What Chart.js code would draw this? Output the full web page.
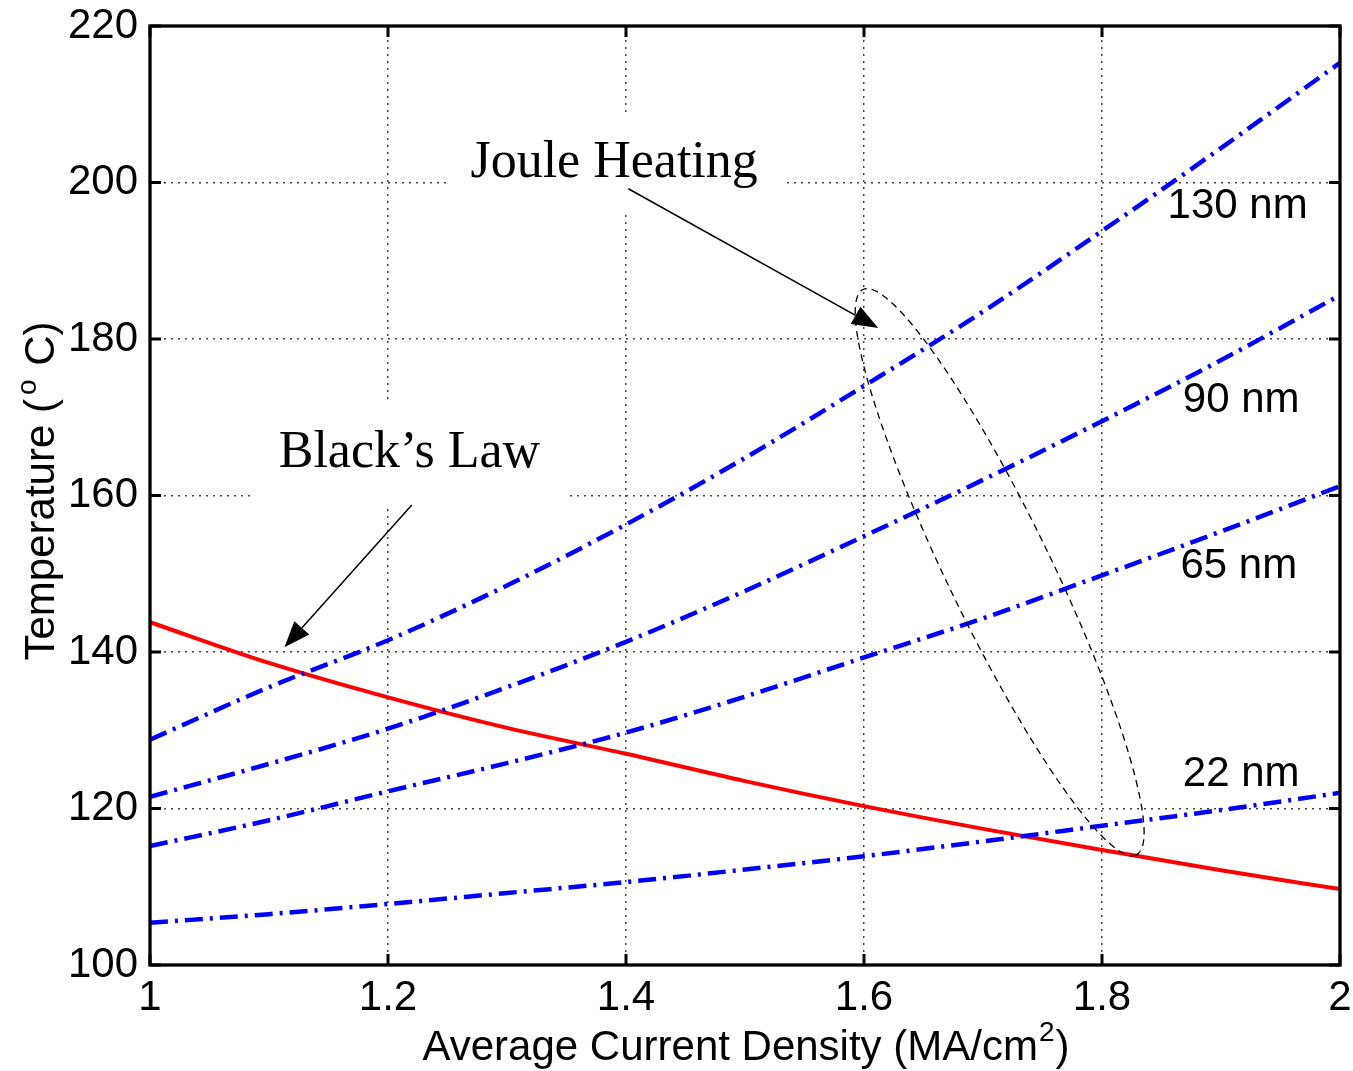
<!DOCTYPE html>
<html>
<head>
<meta charset="utf-8">
<script src="https://cdn.jsdelivr.net/npm/chart.js@4.4.1/dist/chart.umd.min.js"></script>
<style>
  body { margin: 0; background: #fff; }
  #wrap { width: 1353px; height: 1071px; position: relative; }
</style>
</head>
<body>
<div id="wrap"><canvas id="canvas1"></canvas></div>
<script>
// Temperature vs average current density

var currentDensity = [1.0, 1.1, 1.2, 1.3, 1.4, 1.5, 1.6, 1.7, 1.8, 1.9, 2.0];
var temp130 = [128.8, 135.5, 141.5, 148.5, 156.3, 164.8, 174.0, 183.5, 193.8, 204.4, 215.3];
var temp90 = [121.5, 125.7, 130.2, 135.5, 141.3, 147.8, 154.8, 162.0, 169.5, 177.3, 185.6];
var temp65 = [115.2, 118.5, 122.2, 125.8, 129.7, 134.3, 139.3, 144.3, 149.8, 155.4, 161.2];
var temp22 = [105.4, 106.5, 107.8, 109.2, 110.6, 112.2, 113.9, 115.8, 117.8, 119.8, 122.0];
var blacksLaw = [143.8, 138.6, 134.2, 130.3, 127.0, 123.5, 120.3, 117.4, 114.7, 112.1, 109.7];

var xTicks = [1, 1.2, 1.4, 1.6, 1.8, 2];
var yTicks = [100, 120, 140, 160, 180, 200, 220];

var nodeLabels = [
    { text: '130 nm', x: 1.914, y: 196.9 },
    { text: '90 nm', x: 1.917, y: 172.2 },
    { text: '65 nm', x: 1.915, y: 150.9 },
    { text: '22 nm', x: 1.917, y: 124.3 }
];

var sansFont = '"Liberation Sans", Arial, Helvetica, sans-serif';
var serifFont = '"Liberation Serif", "Times New Roman", serif';

function toPoints(ys) {
    return ys.map(function (y, i) { return { x: currentDensity[i], y: y }; });
}

function blueLine(data) {
    return {
        data: toPoints(data),
        borderColor: '#0000ff',
        borderWidth: 4.5,
        borderDash: [18, 7, 3, 7],
        pointRadius: 0,
        cubicInterpolationMode: 'monotone',
        fill: false
    };
}

function arrow(ctx, x1, y1, x2, y2) {
    var ang = Math.atan2(y2 - y1, x2 - x1);
    var len = 26, half = 10;
    var bx = x2 - len * Math.cos(ang), by = y2 - len * Math.sin(ang);
    ctx.beginPath();
    ctx.moveTo(x1, y1);
    ctx.lineTo(bx, by);
    ctx.lineWidth = 1.5;
    ctx.strokeStyle = '#000';
    ctx.stroke();
    ctx.beginPath();
    ctx.moveTo(x2, y2);
    ctx.lineTo(bx + half * Math.sin(ang), by - half * Math.cos(ang));
    ctx.lineTo(bx - half * Math.sin(ang), by + half * Math.cos(ang));
    ctx.closePath();
    ctx.fillStyle = '#000';
    ctx.fill();
}

function noEdgePadding(scale) {
    scale.paddingTop = 0;
    scale.paddingBottom = 0;
    scale.paddingLeft = 0;
    scale.paddingRight = 0;
}

var boxPlugin = {
    id: 'textBoxes',
    beforeDatasetsDraw: function (chart) {
        var ctx = chart.ctx, xs = chart.scales.x, ys = chart.scales.y;
        ctx.save();
        ctx.fillStyle = '#fff';
        // white boxes behind the two annotations
        var jx = xs.getPixelForValue(1.39), jy = ys.getPixelForValue(200.7);
        ctx.fillRect(jx - 166, jy - 60, 336, 96);
        var bx = xs.getPixelForValue(1.218), by = ys.getPixelForValue(163.6);
        ctx.fillRect(bx - 157, by - 66, 314, 104);
        ctx.restore();
    }
};

var framePlugin = {
    id: 'matlabFrame',
    afterDraw: function (chart) {
        var ctx = chart.ctx, a = chart.chartArea;
        var xs = chart.scales.x, ys = chart.scales.y;
        ctx.save();

        // ticks pointing inward on all four sides
        ctx.strokeStyle = '#000';
        ctx.lineWidth = 3;
        ctx.beginPath();
        xTicks.forEach(function (v) {
            var px = xs.getPixelForValue(v);
            ctx.moveTo(px, a.bottom); ctx.lineTo(px, a.bottom - 11);
            ctx.moveTo(px, a.top); ctx.lineTo(px, a.top + 11);
        });
        yTicks.forEach(function (v) {
            var py = ys.getPixelForValue(v);
            ctx.moveTo(a.left, py); ctx.lineTo(a.left + 11, py);
            ctx.moveTo(a.right, py); ctx.lineTo(a.right - 11, py);
        });
        ctx.stroke();
        ctx.lineWidth = 3.3;
        ctx.strokeRect(a.left, a.top, a.right - a.left, a.bottom - a.top);

        // series labels
        ctx.fillStyle = '#000';
        ctx.font = '42px ' + sansFont;
        ctx.textAlign = 'center';
        ctx.textBaseline = 'middle';
        nodeLabels.forEach(function (l) {
            ctx.fillText(l.text, xs.getPixelForValue(l.x), ys.getPixelForValue(l.y));
        });

        // annotations
        ctx.font = '52px ' + serifFont;
        ctx.textBaseline = 'alphabetic';
        ctx.fillText('Joule Heating', xs.getPixelForValue(1.39), ys.getPixelForValue(200.7));
        ctx.fillText('Black\u2019s Law', xs.getPixelForValue(1.218), ys.getPixelForValue(163.6));

        arrow(ctx, xs.getPixelForValue(1.402), ys.getPixelForValue(199.2),
            xs.getPixelForValue(1.612), ys.getPixelForValue(181.4));
        arrow(ctx, xs.getPixelForValue(1.220), ys.getPixelForValue(158.8),
            xs.getPixelForValue(1.113), ys.getPixelForValue(140.6));

        // dashed ellipse around the heating curves
        ctx.beginPath();
        ctx.ellipse(xs.getPixelForValue(1.714), ys.getPixelForValue(150.2), 314, 52,
            64.2 * Math.PI / 180, 0, 2 * Math.PI);
        ctx.setLineDash([7, 5]);
        ctx.lineWidth = 1.3;
        ctx.stroke();
        ctx.setLineDash([]);

        // axis titles
        ctx.textAlign = 'left';
        var p1 = 'Average Current Density (MA/cm', p2 = ')';
        ctx.font = '42px ' + sansFont;
        var w1 = ctx.measureText(p1).width, w3 = ctx.measureText(p2).width;
        ctx.font = '28px ' + sansFont;
        var w2 = ctx.measureText('2').width;
        var sx = (a.left + a.right) / 2 - (w1 + w2 + w3) / 2;
        var base = 1060;
        ctx.font = '42px ' + sansFont;
        ctx.fillText(p1, sx, base);
        ctx.font = '28px ' + sansFont;
        ctx.fillText('2', sx + w1 + 1, base - 19);
        ctx.font = '42px ' + sansFont;
        ctx.fillText(p2, sx + w1 + w2 + 2, base);

        ctx.translate(54, 491);
        ctx.rotate(-Math.PI / 2);
        var t1 = 'Temperature (', t3 = ' C)';
        var v1 = ctx.measureText(t1).width, v3 = ctx.measureText(t3).width;
        ctx.font = '28px ' + sansFont;
        var v2 = ctx.measureText('o').width;
        var tx = -(v1 + v2 + v3 + 6) / 2;
        ctx.font = '42px ' + sansFont;
        ctx.fillText(t1, tx, 0);
        ctx.font = '28px ' + sansFont;
        ctx.fillText('o', tx + v1 + 4, -18);
        ctx.font = '42px ' + sansFont;
        ctx.fillText(t3, tx + v1 + v2 + 6, 0);

        ctx.restore();
    }
};

var ctx1 = document.getElementById('canvas1').getContext('2d');
window.tempChart = new Chart(ctx1, {
    type: 'line',
    data: {
        datasets: [
            blueLine(temp130),
            blueLine(temp90),
            blueLine(temp65),
            blueLine(temp22),
            {
                data: toPoints(blacksLaw),
                borderColor: '#ff0000',
                borderWidth: 4,
                pointRadius: 0,
                cubicInterpolationMode: 'monotone',
                fill: false
            }
        ]
    },
    options: {
        responsive: true,
        maintainAspectRatio: false,
        animation: false,
        layout: { padding: { top: 26, right: 13, left: 0, bottom: 0 } },
        plugins: {
            legend: { display: false },
            tooltip: { enabled: false }
        },
        scales: {
            x: {
                type: 'linear',
                min: 1,
                max: 2,
                afterBuildTicks: function (scale) {
                    scale.ticks = xTicks.map(function (v) { return { value: v }; });
                },
                afterFit: function (scale) {
                    scale.height = 106;
                    noEdgePadding(scale);
                },
                ticks: {
                    color: '#000',
                    font: { family: sansFont, size: 42 },
                    padding: 8,
                    maxRotation: 0,
                    callback: function (v) { return String(v); }
                },
                grid: {
                    color: '#444',
                    lineWidth: 1.5,
                    drawTicks: false
                },
                border: { display: false, dash: [2, 5] }
            },
            y: {
                type: 'linear',
                min: 100,
                max: 220,
                afterBuildTicks: function (scale) {
                    scale.ticks = yTicks.map(function (v) { return { value: v }; });
                },
                afterFit: function (scale) {
                    scale.width = 150;
                    noEdgePadding(scale);
                },
                ticks: {
                    color: '#000',
                    font: { family: sansFont, size: 42 },
                    padding: 12,
                    callback: function (v) { return String(v); }
                },
                grid: {
                    color: '#444',
                    lineWidth: 1.5,
                    drawTicks: false
                },
                border: { display: false, dash: [2, 5] }
            }
        }
    },
    plugins: [boxPlugin, framePlugin]
});
</script>
</body>
</html>
